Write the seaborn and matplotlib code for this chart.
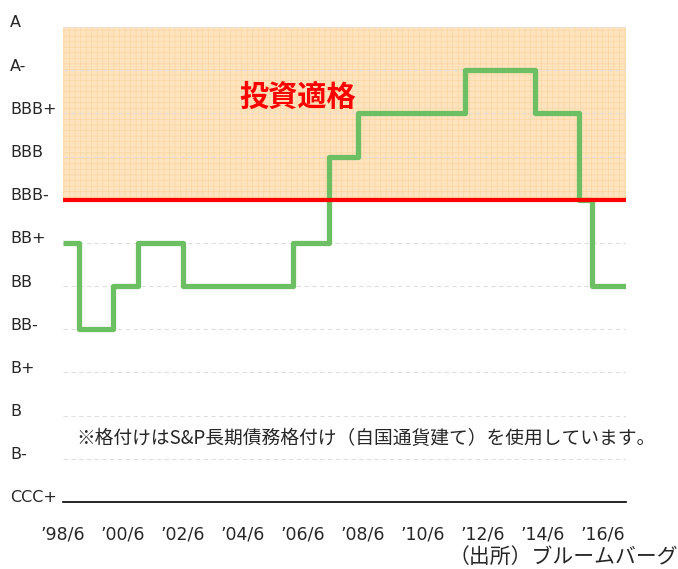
import numpy as np
import pandas as pd
import matplotlib
matplotlib.use('Agg')
import matplotlib.pyplot as plt
import matplotlib.transforms as mtransforms
import seaborn as sns

# 格付け（S&P長期・自国通貨建て）の推移
rating_labels = ['CCC+', 'B-', 'B', 'B+', 'BB-', 'BB', 'BB+', 'BBB-', 'BBB', 'BBB+', 'A-', 'A']
step_years = [1998.5, 1999.03, 2000.17, 2001.0, 2002.5, 2006.17, 2007.37, 2008.33,
              2011.9, 2014.23, 2015.7, 2016.13, 2017.3]
step_ratings = ['BB+', 'BB-', 'BB', 'BB+', 'BB', 'BB+', 'BBB', 'BBB+',
                'A-', 'BBB+', 'BBB-', 'BB', 'BB']
tick_years = [1998.5, 2000.5, 2002.5, 2004.5, 2006.5, 2008.5, 2010.5, 2012.5, 2014.5, 2016.5]
tick_labels = ['’98/6', '’00/6', '’02/6', '’04/6', '’06/6', '’08/6', '’10/6', '’12/6', '’14/6', '’16/6']

df = pd.DataFrame({'year': step_years,
                   'rank': [rating_labels.index(r) for r in step_ratings]})
invest_level = rating_labels.index('BBB-')

sns.set_style('white')
plt.rcParams['font.family'] = ['DejaVu Sans', 'Noto Sans CJK JP']
plt.rcParams['hatch.linewidth'] = 0.4

fig = plt.figure(figsize=(6.78, 5.69), dpi=100)
ax = fig.add_axes([63/678, 1-502/569, (626-63)/678, (502-27)/569])

# 投資適格ゾーン
ax.axhspan(invest_level, len(rating_labels)-1, facecolor='#FEE3BE', edgecolor='#FAD49C',
           hatch='+++', linewidth=0, zorder=0)
for lv in range(1, len(rating_labels)):
    ax.axhline(lv, color='#E0E0E0', lw=0.8, ls=(0, (4, 3)), zorder=1)

sns.lineplot(data=df, x='year', y='rank', drawstyle='steps-post', color='#6CBF63',
             linewidth=3.8, ax=ax, zorder=3, solid_joinstyle='round', solid_capstyle='butt')
ax.axhline(invest_level, color='#FF0000', lw=3, zorder=4)

ax.set_xlim(1998.5, 2017.27)
ax.set_ylim(0, len(rating_labels)-1)
ax.set_yticks(range(len(rating_labels)))
ax.set_yticklabels(rating_labels, fontsize=11.5)
ax.set_xticks(tick_years)
ax.set_xticklabels(tick_labels, fontsize=12.5)
ax.set_xlabel('')
ax.set_ylabel('')

for s in ['left', 'right', 'top']:
    ax.spines[s].set_visible(False)
ax.spines['bottom'].set_color('black')
ax.spines['bottom'].set_linewidth(1.2)
ax.tick_params(axis='x', direction='in', length=5, color='#BFBFBF', pad=17, width=0.8)
ax.tick_params(axis='y', length=0, pad=53/100*72)
off = mtransforms.ScaledTranslation(0, 4/72, fig.dpi_scale_trans)
for lab in ax.get_yticklabels():
    lab.set_horizontalalignment('left')
    lab.set_transform(lab.get_transform() + off)

ax.text(2006.33, 9.38, '投資適格', color='#FF0000', fontsize=21, fontweight='bold',
        ha='center', va='center', family=['Noto Sans CJK JP'], zorder=5)
ax.text(2008.6, 1.48, '※格付けはS&P長期債務格付け（自国通貨建て）を使用しています。',
        fontsize=13.5, ha='center', va='center', family=['Noto Sans CJK JP', 'DejaVu Sans'])
fig.text(1.0, 1-557/569, '（出所）ブルームバーグ', fontsize=15, ha='right', va='center',
         family=['Noto Sans CJK JP'])

fig.savefig('out.png', dpi=100)
